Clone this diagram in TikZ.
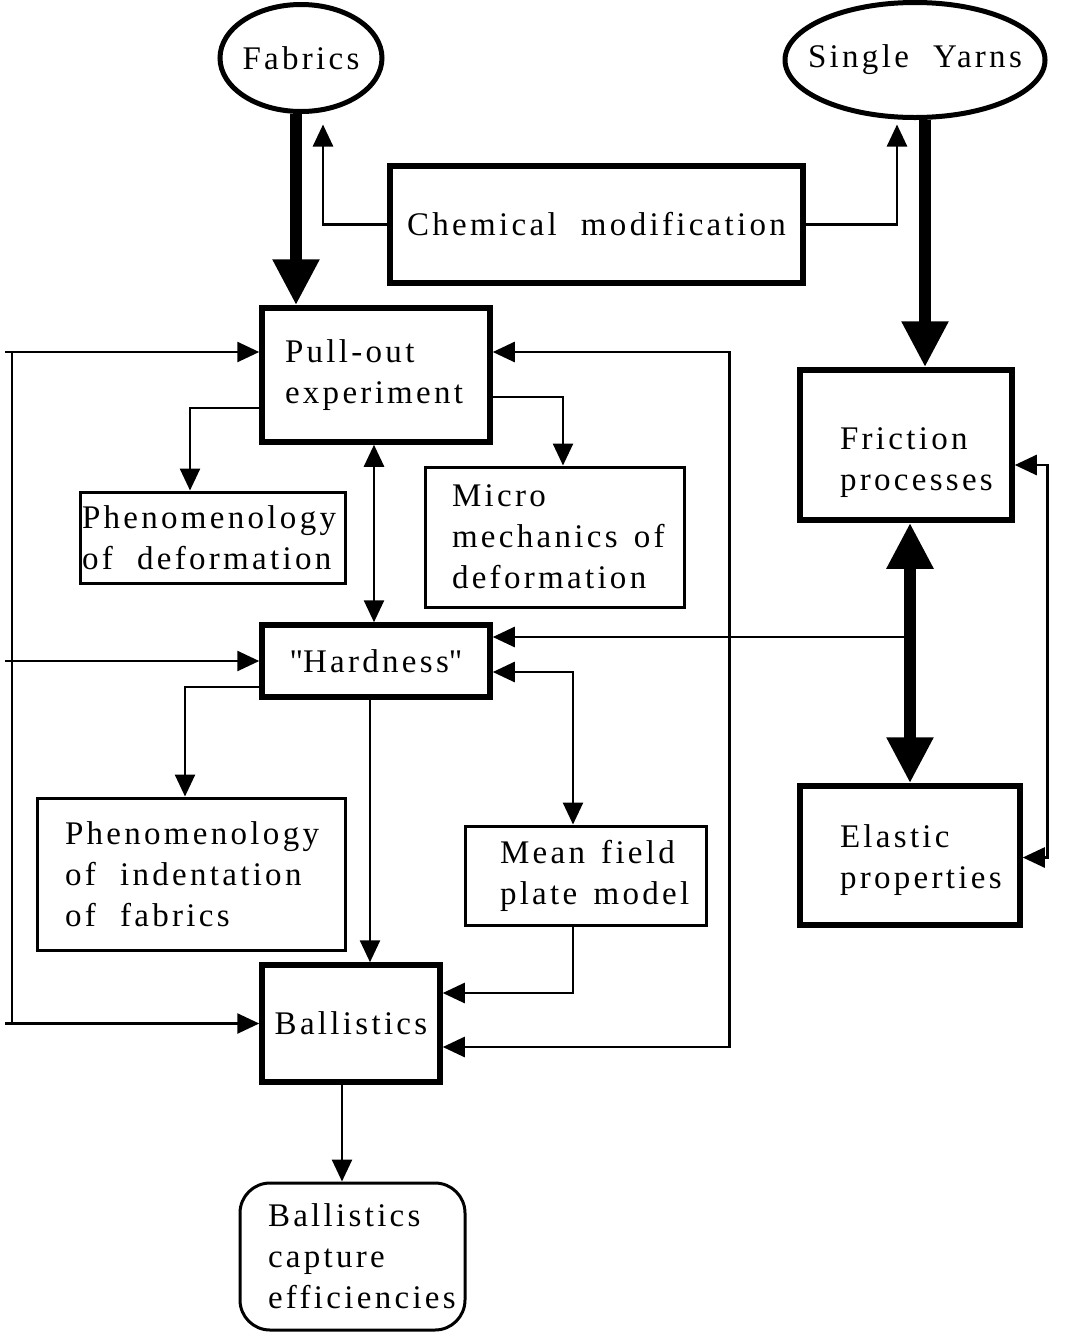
\documentclass[tikz,border=0pt]{standalone}
\usepackage{fontspec}
\setmainfont{Liberation Serif}[LetterSpace=10,WordSpace=2.1]
\usepackage{tikz}
\usetikzlibrary{arrows.meta,shapes.geometric}

\begin{document}
\begin{tikzpicture}[x=0.5pt,y=-0.5pt]
        \tikzstyle Base Text=[font=\fontsize{16.5}{20.5}\selectfont, inner sep=0pt, execute at begin node={\spaceskip=0pt\xspaceskip=0pt}]
        \tikzstyle Thick Box=[Base Text, draw, line width=2.75pt, rectangle]
        \tikzstyle Thin Box=[Base Text, draw, line width=1.5pt, rectangle]
        \tikzstyle Round Box=[Thin Box, rounded corners=15pt]
        \tikzstyle Source Oval=[Base Text, draw, line width=2.5pt, ellipse]
        \tikzstyle Thin Line=[line width=1.3pt]
        \tikzstyle Thin Arrow=[Thin Line, -{Triangle[length=11pt, width=10pt]}]
        \tikzstyle Both Arrow=[Thin Line, {Triangle[length=11pt, width=10pt]}-{Triangle[length=11pt, width=10pt]}]
        \tikzstyle Big Arrow=[line width=6pt, -{Triangle[length=23pt, width=22pt]}]
        \tikzstyle Big Both Arrow=[line width=6pt, {Triangle[length=23pt, width=22pt]}-{Triangle[length=23pt, width=22pt]}]

        \useasboundingbox (0,0) rectangle (1068,1334);

        \node[Source Oval, minimum width=81pt, minimum height=53.5pt] (fab) at (301,58) {\makebox[0pt]{Fabrics}};
        \node[Source Oval, minimum width=130pt, minimum height=57.5pt] (yarn) at (915,60) {\makebox[0pt]{Single Yarns}};
        \node[Thick Box, minimum width=206.5pt, minimum height=58.5pt] (chem) at (596.5,224.5) {Chemical modification};
        \node[Thick Box, minimum width=114pt, minimum height=67pt, text width=91pt, align=left] (pull) at (376,375) {Pull-out\\experiment};
        \node[Thick Box, minimum width=106pt, minimum height=75pt, text width=66pt, align=left] (fric) at (906,445) {\rule{0pt}{29pt}Friction\\processes};
        \node[Thick Box, minimum width=110pt, minimum height=69.5pt, text width=70pt, align=left] (elas) at (910,855.5) {\rule{0pt}{16pt}Elastic\\properties};
        \node[Thin Box, minimum width=132.5pt, minimum height=45.5pt, text width=130.5pt, align=left] (phdef) at (212.5,537.5) {Phenomenology\\of~deformation};
        \node[Thin Box, minimum width=129.5pt, minimum height=70pt, text width=102.5pt, align=left] (micro) at (554.5,537) {Micro\\mechanics~of\\deformation};
        \node[Thick Box, minimum width=114pt, minimum height=36pt] (hard) at (376,661) {\textquotedbl Hardness\textquotedbl};
        \node[Thin Box, minimum width=154pt, minimum height=76pt, text width=126pt, align=left] (phind) at (191,874) {Phenomenology\\of~indentation\\of~fabrics};
        \node[Thin Box, minimum width=120.5pt, minimum height=49.5pt, text width=85.5pt, align=left] (mean) at (585.5,875.5) {Mean~field\\plate~model};
        \node[Thick Box, minimum width=89pt, minimum height=58.5pt] (ball) at (351,1023.5) {Ballistics};
        \node[Round Box, minimum width=112.5pt, minimum height=73.5pt, text width=84.5pt, align=left] (capt) at (352.5,1256.5) {Ballistics\\capture\\efficiencies};

        \coordinate (tap) at (910,637);
        \coordinate (lpull) at (5,352);
        \coordinate (lhard) at (5,661);
        \coordinate (lball) at (5,1023.5);

        \draw[Big Arrow] ([xshift=-2.5pt]fab.south) -- ([xshift=-2.5pt]fab.south |- pull.north);
        \draw[Thin Arrow] (chem.west) -| ([xshift=11pt,yshift=-5.25pt]fab.south);
        \draw[Thin Arrow] (chem.east) -| ([xshift=-9pt,yshift=-2.25pt]yarn.south);
        \draw[Big Arrow] ([xshift=5pt]yarn.south) -- ([xshift=5pt]yarn.south |- fric.north);
        \draw[Big Both Arrow] (fric.south -| elas.north) -- (elas.north);
        \draw[Thin Arrow] (tap) -- (tap -| hard.east);
        \draw[Both Arrow] ([yshift=-10pt]fric.east) -- ++(33,0) |- ([yshift=-1pt]elas.east);
        \draw[Both Arrow] ([yshift=11.5pt]pull.east) -- ++(237,0) |- ([yshift=-11.75pt]ball.east);

        \draw[Thin Line] ([xshift=3.5pt]lpull) -- ([xshift=3.5pt]lball);
        \draw[Thin Arrow] (lpull) -- (lpull -| pull.west);
        \draw[Thin Arrow] (lhard) -- (hard.west);
        \draw[Thin Arrow] (lball) -- (ball.west);

        \draw[Thin Arrow] ([yshift=-16.5pt]pull.west) -| ([xshift=-11.25pt]phdef.north);
        \draw[Thin Arrow] ([yshift=-11pt]pull.east) -| ([xshift=4.25pt]micro.north);
        \draw[Both Arrow] ([xshift=-1pt]pull.south) -- ([xshift=-1pt]hard.north);
        \draw[Thin Arrow] ([yshift=-13pt]hard.west) -| ([xshift=-3pt]phind.north);
        \draw[Thin Arrow] ([xshift=-3pt]hard.south) -- ([xshift=-3pt]hard.south |- ball.north);
        \draw[Both Arrow] ([yshift=-5.5pt]hard.east) -| ([xshift=-6.25pt]mean.north);
        \draw[Thin Arrow] ([xshift=-6.25pt]mean.south) |- ([yshift=15.25pt]ball.east);
        \draw[Thin Arrow] ([xshift=-4.5pt]ball.south) -- ([xshift=-4.5pt]ball.south |- capt.north);
    \end{tikzpicture}
\end{document}
